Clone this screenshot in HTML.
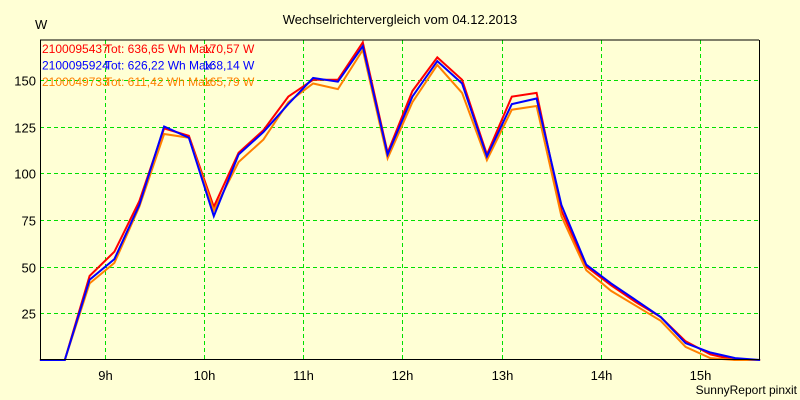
<!DOCTYPE html>
<html><head><meta charset="utf-8"><style>
body{margin:0;background:#ffffd5;}
svg{display:block;font-family:"Liberation Sans",sans-serif;}
</style></head><body>
<svg id="chart" width="800" height="400">
<rect x="0" y="0" width="800" height="400" fill="#ffffd5"/>
<text x="400" y="24" font-size="13" text-anchor="middle">Wechselrichtervergleich vom 04.12.2013</text>
<text x="35" y="29" font-size="13">W</text>
<text x="797" y="394" font-size="12" text-anchor="end">SunnyReport pinxit</text>
<g id="grid"></g>
<g id="series"></g>
<line x1="40" y1="40" x2="759" y2="40" stroke="#000"/>
<line x1="40.5" y1="40" x2="40.5" y2="359.5" stroke="#000"/>
<line x1="759.5" y1="40" x2="759.5" y2="359.5" stroke="#000"/>
<line x1="40" y1="359.5" x2="760" y2="359.5" stroke="#000"/>
<g id="legend" font-size="12"></g>
</svg>
<script>
const times=[8.35,8.6,8.85,9.1,9.35,9.6,9.85,10.1,10.35,10.6,10.85,11.1,11.35,11.6,11.85,12.1,12.35,12.6,12.85,13.1,13.35,13.6,13.85,14.1,14.35,14.6,14.85,15.1,15.35,15.6];
const redVals=[0,0,45,58,85,124,120,82,111,123,141,150,150,170,111,144,162,150,110,141,143,80,50,40,31,23,10,3,0,0];
const blueVals=[0,0,43,54,83,125,119,77,110,122,137,151,149,168,110,141,160,148,109,137,140,83,51,41,32,23,9,4,1,0];
const orangeVals=[0,0,41,52,82,121,119,80,106,118,138,148,145,166,108,138,158,143,107,134,136,77,48,37,29,21,7,1,0,0];
const yTicks=[25,50,75,100,125,150];
const xTicks=[9,10,11,12,13,14,15];
const legendIds=["2100095437","2100095924","2100049733"];
const legendTot=["Tot: 636,65 Wh Max:","Tot: 626,22 Wh Max:","Tot: 611,42 Wh Max:"];
const legendMax=["170,57 W","168,14 W","165,79 W"];
const colors=["#ff0000","#0000ff","#ff8000"];
const NS="http://www.w3.org/2000/svg";
function xs(t){return 104.5+(t-9)*99.33;}
function ys(v){return 360-v*1.868;}
const grid=document.getElementById('grid');
yTicks.forEach(v=>{
 const y=Math.round(ys(v))+0.5;
 const l=document.createElementNS(NS,'line');
 l.setAttribute('x1',40);l.setAttribute('x2',759);l.setAttribute('y1',y);l.setAttribute('y2',y);
 l.setAttribute('stroke','#00e000');l.setAttribute('stroke-dasharray','4,3');
 
 
 grid.appendChild(l);
 const t=document.createElementNS(NS,'text');
 t.setAttribute('x',36);t.setAttribute('y',y+5);t.setAttribute('font-size',13);t.setAttribute('text-anchor','end');
 t.textContent=v;
 
 
 grid.appendChild(t);
});
xTicks.forEach(h=>{
 const x=Math.round(xs(h))+0.5;
 const l=document.createElementNS(NS,'line');
 l.setAttribute('x1',x);l.setAttribute('x2',x);l.setAttribute('y1',40);l.setAttribute('y2',359);
 l.setAttribute('stroke','#00e000');l.setAttribute('stroke-dasharray','4,3');
 
 
 grid.appendChild(l);
 const t=document.createElementNS(NS,'text');
 t.setAttribute('x',x);t.setAttribute('y',380);t.setAttribute('font-size',13);t.setAttribute('text-anchor','middle');
 t.textContent=h+'h';
 
 
 grid.appendChild(t);
});
const series=document.getElementById('series');
const sets=[[redVals,colors[0],'series-2100095437'],[orangeVals,colors[2],'series-2100049733'],[blueVals,colors[1],'series-2100095924']];
sets.forEach(s=>{
 const p=document.createElementNS(NS,'polyline');
 p.setAttribute('points',s[0].map((v,i)=>xs(times[i]).toFixed(1)+','+ys(v).toFixed(1)).join(' '));
 p.setAttribute('fill','none');p.setAttribute('stroke',s[1]);p.setAttribute('stroke-width','2');
 
 
 series.appendChild(p);
});
const lg=document.getElementById('legend');
legendIds.forEach((id,i)=>{
 const y=53+i*16.5;
 [[42,id],[105,legendTot[i]],[203,legendMax[i]]].forEach(c=>{
  const t=document.createElementNS(NS,'text');
  t.setAttribute('x',c[0]);t.setAttribute('y',y);t.setAttribute('fill',colors[i]);
  t.textContent=c[1];
  
  
  lg.appendChild(t);
 });
});
</script>
</body></html>
